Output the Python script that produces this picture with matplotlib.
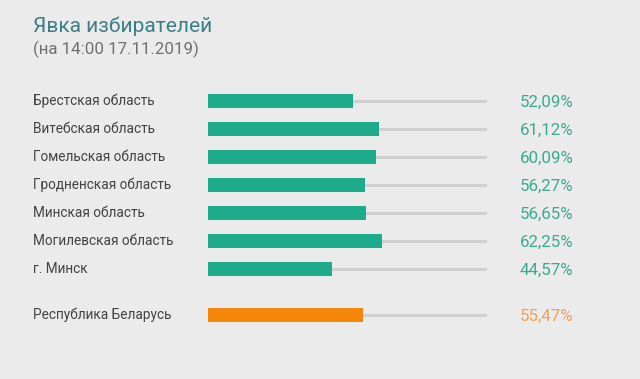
import matplotlib
matplotlib.use("Agg")
import matplotlib.pyplot as plt

categories = ["Брестская область", "Витебская область", "Гомельская область",
              "Гродненская область", "Минская область", "Могилевская область",
              "г. Минск", "Республика Беларусь"]
values = [52.09, 61.12, 60.09, 56.27, 56.65, 62.25, 44.57, 55.47]
value_labels = ["52,09%", "61,12%", "60,09%", "56,27%", "56,65%", "62,25%", "44,57%", "55,47%"]
positions = [0, 1, 2, 3, 4, 5, 6, 7.64]

W, H = 640, 379
bg = "#ebebeb"
teal = "#1dab8c"
teal_txt = "#3aab90"
orange = "#f4860a"
orange_txt = "#f2a055"
track = "#d0d0d0"

fig = plt.figure(figsize=(W / 100, H / 100), dpi=100, facecolor=bg)
plt.rcParams["font.family"] = ["Roboto", "DejaVu Sans"]

x0, x1 = 208, 487
ax = fig.add_axes([x0 / W, 0, (x1 - x0) / W, 1])
ax.set_facecolor("none")
ax.set_xlim(0, 100)
ax.set_ylim((H - 101) / 28, -101 / 28)
ax.axis("off")

pxu = (x1 - x0) / 100.0
label_x = (33 - x0) / pxu
pct_x = (520 - x0) / pxu

for i, (cat, v, lab, y) in enumerate(zip(categories, values, value_labels, positions)):
    last = i == len(categories) - 1
    c = orange if last else teal
    tc = orange_txt if last else teal_txt
    ax.plot([0, 100], [y, y], color=track, lw=2.2, solid_capstyle="butt", zorder=1)
    ax.barh(y, v, height=0.5, color=c, zorder=2)
    ax.text(label_x, y, cat, ha="left", va="center", fontsize=9.8, color="#444444", clip_on=False)
    ax.text(pct_x, y + 0.04, lab, ha="left", va="center", fontsize=12.2, color=tc, clip_on=False)

fig.text(33 / W, 1 - 26 / H, "Явка избирателей", ha="left", va="center",
         fontsize=15, color="#3b7f86")
fig.text(33 / W, 1 - 49 / H, "(на 14:00 17.11.2019)", ha="left", va="center",
         fontsize=12.2, color="#707070")

fig.savefig("out.png", dpi=100, facecolor=bg)
